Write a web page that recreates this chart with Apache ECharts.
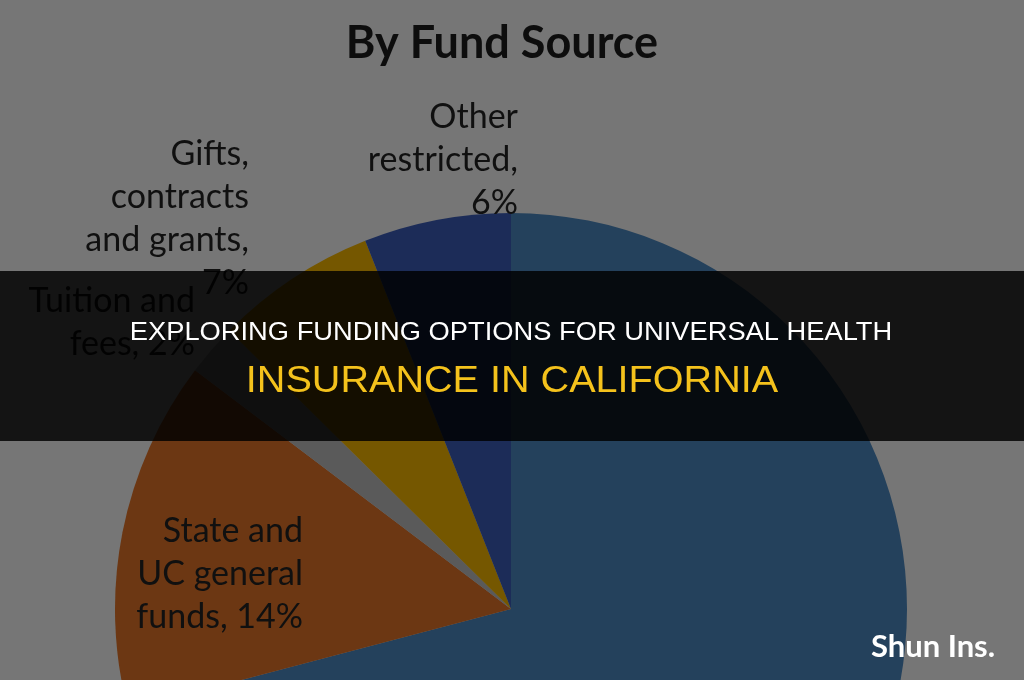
<!DOCTYPE html>
<html><head><meta charset="utf-8">
<script src="https://cdn.jsdelivr.net/npm/echarts@6/dist/echarts.min.js"></script>
<style>html,body{margin:0;padding:0;background:#767676;}#c{width:1024px;height:680px;}</style>
</head><body><div id="c"></div>
<script>
// Data
const categories = ["Remaining sources", "State and UC general funds", "Tuition and fees", "Gifts, contracts and grants", "Other restricted"];
const shares = [70.9, 14.4, 2.1, 6.6, 6.0];
const labelTexts = ["", "State and\nUC general\nfunds, 14%", "Tuition and\nfees, 2%", "Gifts,\ncontracts\nand grants,\n7%", "Other\nrestricted,\n6%"];
const sliceColors = ["#24415c", "#6c3713", "#5a5a5a", "#755700", "#1c2c58"];
const chartTitle = "By Fund Source";
const bannerLine1 = "EXPLORING FUNDING OPTIONS FOR UNIVERSAL HEALTH";
const bannerLine2 = "INSURANCE IN CALIFORNIA";
const watermark = "Shun Ins.";

// label anchor spots (right edge x, vertical middle y)
const labelSpots = [null, [303, 574], [195, 323], [249, 219], [518, 160]];

const chart = echarts.init(document.getElementById('c'));
const LFONT = 'Lato, "Noto Sans", sans-serif';
const BFONT = '"Liberation Sans", Arial, sans-serif';
chart.setOption({
  backgroundColor: '#767676',
  animation: false,
  title: {
    text: chartTitle, left: 497, top: 38, textAlign: 'center', textVerticalAlign: 'middle',
    textStyle: { fontFamily: LFONT, fontWeight: 'bold', fontSize: 45, color: '#0d0d0d' }
  },
  series: [{
    type: 'pie',
    center: [511, 609],
    radius: 396,
    startAngle: 90,
    clockwise: true,
    silent: true,
    itemStyle: { borderWidth: 0 },
    labelLine: { show: false },
    label: {
      show: true, position: 'outside', overflow: 'none', width: 400,
      fontFamily: LFONT, fontSize: 34, lineHeight: 43, color: '#101010',
      formatter: p => labelTexts[p.dataIndex]
    },
    labelLayout: function (params) {
      const s = labelSpots[params.dataIndex];
      if (!s) return {};
      return { x: s[0], y: s[1], align: 'right', verticalAlign: 'middle', hideOverlap: false };
    },
    data: categories.map((c, i) => ({ name: c, value: shares[i], itemStyle: { color: sliceColors[i] } }))
  }],
  graphic: [
    { type: 'rect', z: 100, shape: { x: 0, y: 271, width: 1024, height: 170 }, style: { fill: 'rgba(0,0,0,0.83)' } },
    { type: 'text', z: 101, x: 511, y: 333, scaleX: 1.05, style: { text: bannerLine1, fill: '#ffffff', font: '26px ' + BFONT, align: 'center', verticalAlign: 'middle' } },
    { type: 'text', z: 101, x: 512, y: 382, scaleX: 1.07, style: { text: bannerLine2, fill: '#f4c21c', font: '37px ' + BFONT, align: 'center', verticalAlign: 'middle' } },
    { type: 'text', z: 101, x: 933, y: 647, style: { text: watermark, fill: '#ffffff', font: 'bold 31px ' + LFONT, align: 'center', verticalAlign: 'middle' } }
  ]
});
</script></body></html>
